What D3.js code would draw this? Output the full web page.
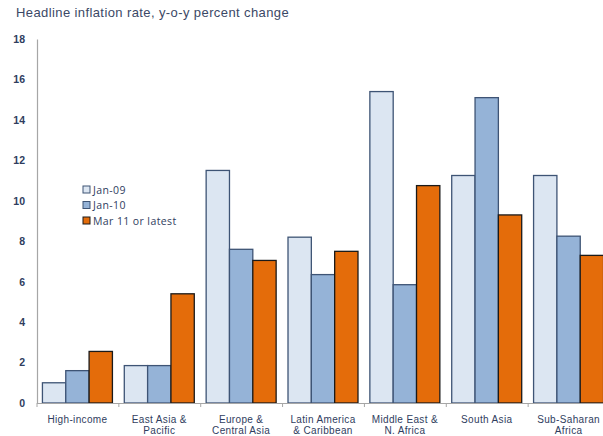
<!DOCTYPE html>
<html>
<head>
<meta charset="utf-8">
<script src="https://cdn.jsdelivr.net/npm/d3@7"></script>
<style>
  body { margin: 0; background: #fff; }
  svg { display: block; }
</style>
</head>
<body>
<svg id="chart" width="603" height="436"></svg>
<script>
const categories = [
  "High-income",
  "East Asia &\nPacific",
  "Europe &\nCentral Asia",
  "Latin America\n& Caribbean",
  "Middle East &\nN. Africa",
  "South Asia",
  "Sub-Saharan\nAfrica",
];
const seriesNames = ["Jan-09", "Jan-10", "Mar 11 or latest"];
const jan09 = [1.0, 1.85, 11.5, 8.2, 15.4, 11.25, 11.25];
const jan10 = [1.6, 1.85, 7.6, 6.35, 5.85, 15.1, 8.25];
const mar11 = [2.55, 5.4, 7.05, 7.5, 10.75, 9.3, 7.3];
const yTicks = [0, 2, 4, 6, 8, 10, 12, 14, 16, 18];

const color = {
  fills: ["#dce6f2", "#95b3d7", "#e46c0a"],
  strokes: ["#3e5475", "#3e5475", "#1a1a1a"],
  text: "#2f3d5e",
  axis: "#a6a6a6",
};

const svg = d3.select("#chart");
const seriesData = [jan09, jan10, mar11];

const x0 = d3
  .scaleBand()
  .domain(categories)
  .range([36.5, 609.5])
  .paddingInner(0.145)
  .paddingOuter(0.0725);

const x1 = d3
  .scaleBand()
  .domain(d3.range(seriesNames.length))
  .range([0, x0.bandwidth()]);

const y = d3.scaleLinear().domain([0, 18]).range([403, 39]);

svg
  .append("text")
  .attr("x", 16)
  .attr("y", 17)
  .attr("font-family", "Liberation Sans, Arial, sans-serif")
  .attr("font-size", 13)
  .attr("letter-spacing", 0.4)
  .attr("fill", "#3b4866")
  .text("Headline inflation rate, y-o-y percent change");

// bars
const groups = svg
  .append("g")
  .selectAll("g")
  .data(categories)
  .join("g")
  .attr("transform", (d) => `translate(${x0(d)},0)`);

groups
  .selectAll("rect")
  .data((d, i) => seriesData.map((s, k) => ({ k: k, v: s[i] })))
  .join("rect")
  .attr("x", (d) => x1(d.k))
  .attr("y", (d) => y(d.v))
  .attr("width", x1.bandwidth())
  .attr("height", (d) => y(0) - y(d.v))
  .attr("fill", (d) => color.fills[d.k])
  .attr("stroke", (d) => color.strokes[d.k])
  .attr("stroke-width", 1.3);

// y axis
const yAxis = svg
  .append("g")
  .attr("transform", "translate(37,0)")
  .call(d3.axisLeft(y).tickValues(yTicks).tickSize(0).tickPadding(12));
yAxis.select(".domain").attr("stroke", color.axis).attr("stroke-width", 1.2);
yAxis
  .selectAll("text")
  .attr("font-family", "Liberation Sans, Arial, sans-serif")
  .attr("font-weight", "bold")
  .attr("font-size", 10.5)
  .attr("fill", color.text);

// x axis with ticks at group boundaries
const xEdges = d3
  .scaleLinear()
  .domain([0, categories.length])
  .range([36.5, 609.5]);
const xAxis = svg
  .append("g")
  .attr("transform", "translate(0,403)")
  .call(
    d3
      .axisBottom(xEdges)
      .tickValues(d3.range(categories.length + 1))
      .tickFormat("")
      .tickSizeInner(4)
      .tickSizeOuter(0)
  );
xAxis.select(".domain").attr("stroke", color.axis).attr("stroke-width", 1.2);
xAxis.selectAll(".tick line").attr("stroke", color.axis);

// category labels, one text per line
const labelLines = [];
categories.forEach(function (c) {
  c.split("\n").forEach(function (line, i) {
    labelLines.push({ cat: c, line: line, row: i });
  });
});

svg
  .append("g")
  .selectAll("text")
  .data(labelLines)
  .join("text")
  .attr("x", (d) => x0(d.cat) + x0.bandwidth() / 2)
  .attr("y", (d) => 422.5 + d.row * 11.5)
  .attr("text-anchor", "middle")
  .attr("font-family", "Liberation Sans, Arial, sans-serif")
  .attr("font-size", 10)
  .attr("letter-spacing", 0.35)
  .attr("fill", color.text)
  .text((d) => d.line);

// legend
const legend = svg
  .append("g")
  .selectAll("g")
  .data(seriesNames)
  .join("g")
  .attr("transform", (d, i) => `translate(83,${186 + i * 15.5})`);

legend
  .append("rect")
  .attr("width", 7)
  .attr("height", 7)
  .attr("fill", (d, i) => color.fills[i])
  .attr("stroke", (d, i) => color.strokes[i])
  .attr("stroke-width", 1);

legend
  .append("text")
  .attr("x", 10)
  .attr("y", 7.5)
  .attr("font-family", "Open Sans, sans-serif")
  .attr("font-size", 10.5)
  .attr("letter-spacing", 0.4)
  .attr("fill", color.text)
  .text((d) => d);
</script>
</body>
</html>
